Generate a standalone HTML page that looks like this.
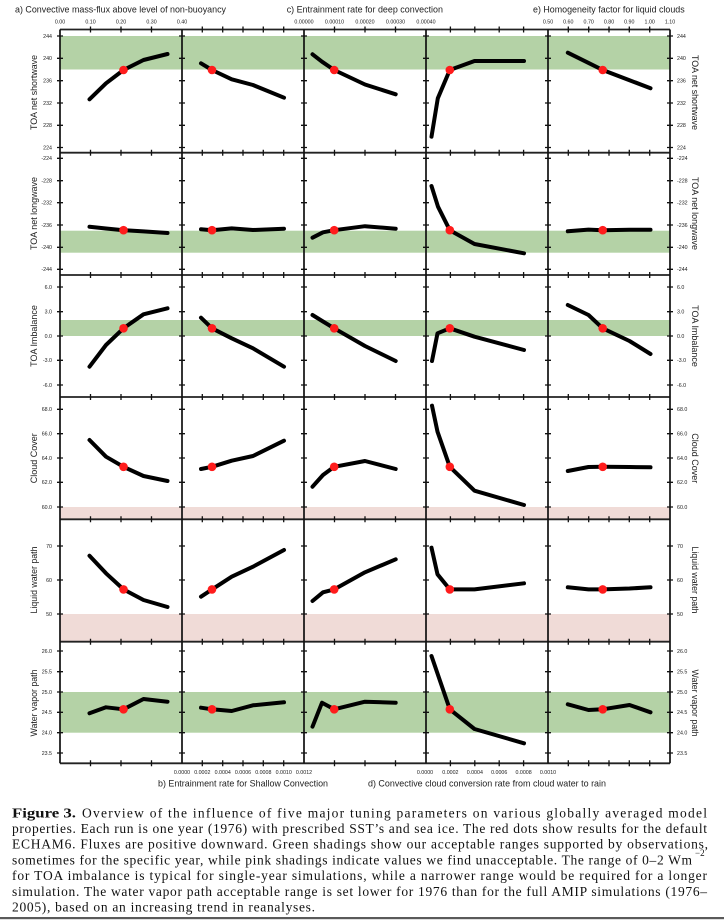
<!DOCTYPE html>
<html><head><meta charset="utf-8">
<style>
html,body{margin:0;padding:0;background:#fff;}
svg{display:block;}
.t{font-family:"Liberation Sans",Arial,sans-serif;fill:#1e1e1e;}
.k{font-family:"Liberation Sans",Arial,sans-serif;font-size:5.3px;fill:#222;}
.c{font-family:"Liberation Serif","Times New Roman",serif;font-size:13.5px;fill:#111;}
</style></head>
<body>
<svg width="724" height="920" viewBox="0 0 724 920" xmlns="http://www.w3.org/2000/svg">
<defs>
<path id="yt" d="M-3 36h6M-3 58.3h6M-3 80.7h6M-3 103h6M-3 125.3h6M-3 147.5h6M-3 158.3h6M-3 180.7h6M-3 202.7h6M-3 225h6M-3 247.3h6M-3 269.3h6M-3 287h6M-3 311.7h6M-3 336h6M-3 360.3h6M-3 385h6M-3 409.3h6M-3 433.7h6M-3 458h6M-3 482.3h6M-3 507h6M-3 546h6M-3 580h6M-3 614h6M-3 651h6M-3 671.7h6M-3 692h6M-3 712.3h6M-3 732.7h6M-3 753h6" stroke="#111" stroke-width="1.3" fill="none"/>
<path id="xt" d="M90.5 -3v6M121 -3v6M151.5 -3v6M202.3 -3v6M222.7 -3v6M243 -3v6M263.3 -3v6M283.7 -3v6M334.5 -3v6M365 -3v6M395.5 -3v6M450.4 -3v6M474.8 -3v6M499.2 -3v6M523.6 -3v6M568.3 -3v6M588.7 -3v6M609 -3v6M629.3 -3v6M649.7 -3v6" stroke="#111" stroke-width="1.3" fill="none"/>
</defs>
<rect x="0" y="0" width="724" height="920" fill="#fff"/>

<!-- bands -->
<rect x="60" y="36" width="610" height="33.5" fill="#b4d2a6"/>
<rect x="60" y="230.7" width="610" height="22" fill="#b4d2a6"/>
<rect x="60" y="320" width="610" height="16" fill="#b4d2a6"/>
<rect x="60" y="507" width="610" height="12.3" fill="#f0dbd7"/>
<rect x="60" y="614" width="610" height="27.7" fill="#f0dbd7"/>
<rect x="60" y="692" width="610" height="40.7" fill="#b4d2a6"/>

<!-- data lines -->
<g fill="none" stroke="#000" stroke-width="4" stroke-linecap="round" stroke-linejoin="round">
<polyline points="89.5,99.3 106,83.3 123.5,70 143.5,60 167.5,54"/>
<polyline points="201,63.3 212,70 231.7,79.3 253,85 284,97.7"/>
<polyline points="312.5,54.3 322,61.7 334.2,70 365,84.5 395.7,94.3"/>
<polyline points="431.5,136.7 437.8,98.3 449.8,70 474.5,61 524,61"/>
<polyline points="567.8,52.7 588.5,62.9 602.7,70 629.5,80.2 650.5,88.3"/>

<polyline points="89.5,226.7 106,228.5 123.5,230.2 143.5,231.4 167.5,233"/>
<polyline points="201,229.3 212,230.2 231.7,228.4 253,230 284,228.7"/>
<polyline points="312.5,237.7 323,232.3 334.2,230.2 365,226.2 395.7,228.7"/>
<polyline points="431.5,186 438,206.7 449.8,230.2 474.5,244 524,253.3"/>
<polyline points="567.8,231.3 588.5,229.6 602.7,230.2 629.5,229.7 650.5,229.8"/>

<polyline points="89.5,366.7 106,345 123.5,328.3 143.5,314.3 167.5,308.3"/>
<polyline points="201,317.7 212,328.3 231.7,338.3 253,348.3 284,366.7"/>
<polyline points="312.5,315 323,321.5 334.2,328.3 365,346 395.7,361"/>
<polyline points="432,361 437.5,333.3 449.8,328.3 474.5,336.7 524,350"/>
<polyline points="567.8,305 588.5,315 602.7,328.3 629.5,341 650.5,354"/>

<polyline points="89.5,440 106,456.7 123.5,466.8 143.5,476 167.5,481"/>
<polyline points="201,469 212,466.8 231.7,460.7 253,456 284,440.7"/>
<polyline points="312.5,486.7 323,475 334.2,466.8 365,461 395.7,469"/>
<polyline points="432,405.7 437.5,431.7 449.8,466.8 474.5,490.7 524,505"/>
<polyline points="567.8,471 588.5,467 602.7,466.8 629.5,467 650.5,467.3"/>

<polyline points="89.5,555.7 106,573.3 123.5,589.4 143.5,600 167.5,607"/>
<polyline points="201,596.7 212,589.4 231.7,576.7 253,566.7 284,550"/>
<polyline points="312.5,601 323,592.3 334.2,589.4 365,572.3 395.7,559.3"/>
<polyline points="431.5,547.7 437.5,574.3 449.8,589.4 474.5,589.4 524,583.3"/>
<polyline points="567.8,587.3 588.5,589.4 602.7,589.4 629.5,588.5 650.5,587.3"/>

<polyline points="89.5,713.3 106,707.3 123.5,709.3 143.5,699 167.5,701.7"/>
<polyline points="201,707.7 212,709.3 231.7,711 253,705.3 284,702.3"/>
<polyline points="312.5,726.7 322,702.7 334.2,709.3 365,701.7 395.7,702.7"/>
<polyline points="431.5,656 437.5,673.5 449.8,709.3 474.5,729 524,743.3"/>
<polyline points="567.8,704.3 588.5,710 602.7,709.3 629.5,705 650.5,712.3"/>
</g>

<!-- red dots -->
<g fill="#ff1c1c">
<circle cx="123.5" cy="70" r="4.3"/><circle cx="212" cy="70" r="4.3"/><circle cx="334.2" cy="70" r="4.3"/><circle cx="449.8" cy="70" r="4.3"/><circle cx="602.7" cy="70" r="4.3"/>
<circle cx="123.5" cy="230.2" r="4.3"/><circle cx="212" cy="230.2" r="4.3"/><circle cx="334.2" cy="230.2" r="4.3"/><circle cx="449.8" cy="230.2" r="4.3"/><circle cx="602.7" cy="230.2" r="4.3"/>
<circle cx="123.5" cy="328.3" r="4.3"/><circle cx="212" cy="328.3" r="4.3"/><circle cx="334.2" cy="328.3" r="4.3"/><circle cx="449.8" cy="328.3" r="4.3"/><circle cx="602.7" cy="328.3" r="4.3"/>
<circle cx="123.5" cy="466.8" r="4.3"/><circle cx="212" cy="466.8" r="4.3"/><circle cx="334.2" cy="466.8" r="4.3"/><circle cx="449.8" cy="466.8" r="4.3"/><circle cx="602.7" cy="466.8" r="4.3"/>
<circle cx="123.5" cy="589.4" r="4.3"/><circle cx="212" cy="589.4" r="4.3"/><circle cx="334.2" cy="589.4" r="4.3"/><circle cx="449.8" cy="589.4" r="4.3"/><circle cx="602.7" cy="589.4" r="4.3"/>
<circle cx="123.5" cy="709.3" r="4.3"/><circle cx="212" cy="709.3" r="4.3"/><circle cx="334.2" cy="709.3" r="4.3"/><circle cx="449.8" cy="709.3" r="4.3"/><circle cx="602.7" cy="709.3" r="4.3"/>
</g>

<!-- frame lines -->
<g stroke="#222" stroke-width="1.8" fill="none">
<path d="M60 29.5H670M60 152.7H670M60 275H670M60 397H670M60 519.3H670M60 641.7H670M60 763.3H670"/>
</g>
<g stroke="#111" stroke-width="1.7" fill="none">
<path d="M60 29.5V763.3M182 29.5V763.3M304 29.5V763.3M426 29.5V763.3M548 29.5V763.3M670 29.5V763.3"/>
</g>

<!-- ticks -->
<use href="#yt" x="60"/><use href="#yt" x="182"/><use href="#yt" x="304"/><use href="#yt" x="426"/><use href="#yt" x="548"/><use href="#yt" x="670"/>
<use href="#xt" y="29.5"/><use href="#xt" y="152.7"/><use href="#xt" y="275"/><use href="#xt" y="397"/><use href="#xt" y="519.3"/><use href="#xt" y="641.7"/><use href="#xt" y="763.3"/>

<!-- top tick labels -->
<g class="k" text-anchor="middle">
<text x="60" y="23.6">0.00</text><text x="90.5" y="23.6">0.10</text><text x="121" y="23.6">0.20</text><text x="151.5" y="23.6">0.30</text><text x="182" y="23.6">0.40</text>
<text x="304" y="23.6">0.00000</text><text x="334.5" y="23.6">0.00010</text><text x="365" y="23.6">0.00020</text><text x="395.5" y="23.6">0.00030</text><text x="426" y="23.6">0.00040</text>
<text x="548" y="23.6">0.50</text><text x="568.3" y="23.6">0.60</text><text x="588.7" y="23.6">0.70</text><text x="609" y="23.6">0.80</text><text x="629.3" y="23.6">0.90</text><text x="649.7" y="23.6">1.00</text><text x="670" y="23.6">1.10</text>
<text x="182" y="774">0.0000</text><text x="202.3" y="774">0.0002</text><text x="222.7" y="774">0.0004</text><text x="243" y="774">0.0006</text><text x="263.3" y="774">0.0008</text><text x="283.7" y="774">0.0010</text><text x="304" y="774">0.0012</text>
<text x="425" y="774">0.0000</text><text x="450.4" y="774">0.0002</text><text x="474.8" y="774">0.0004</text><text x="499.2" y="774">0.0006</text><text x="523.6" y="774">0.0008</text><text x="548" y="774">0.0010</text>
</g>

<!-- left tick labels -->
<g class="k" text-anchor="end">
<text x="52" y="37.8">244</text><text x="52" y="60.1">240</text><text x="52" y="82.5">236</text><text x="52" y="104.8">232</text><text x="52" y="127.1">228</text><text x="52" y="149.3">224</text>
<text x="52" y="160.1">-224</text><text x="52" y="182.5">-228</text><text x="52" y="204.5">-232</text><text x="52" y="226.8">-236</text><text x="52" y="249.1">-240</text><text x="52" y="271.1">-244</text>
<text x="52" y="288.8">6.0</text><text x="52" y="313.5">3.0</text><text x="52" y="337.8">0.0</text><text x="52" y="362.1">-3.0</text><text x="52" y="386.8">-6.0</text>
<text x="52" y="411.1">68.0</text><text x="52" y="435.5">66.0</text><text x="52" y="459.8">64.0</text><text x="52" y="484.1">62.0</text><text x="52" y="508.8">60.0</text>
<text x="52" y="547.8">70</text><text x="52" y="581.8">60</text><text x="52" y="615.8">50</text>
<text x="52" y="652.8">26.0</text><text x="52" y="673.5">25.5</text><text x="52" y="693.8">25.0</text><text x="52" y="714.1">24.5</text><text x="52" y="734.5">24.0</text><text x="52" y="754.8">23.5</text>
</g>
<!-- right tick labels -->
<g class="k" text-anchor="start">
<text x="677" y="37.8">244</text><text x="677" y="60.1">240</text><text x="677" y="82.5">236</text><text x="677" y="104.8">232</text><text x="677" y="127.1">228</text><text x="677" y="149.3">224</text>
<text x="677" y="160.1">-224</text><text x="677" y="182.5">-228</text><text x="677" y="204.5">-232</text><text x="677" y="226.8">-236</text><text x="677" y="249.1">-240</text><text x="677" y="271.1">-244</text>
<text x="677" y="288.8">6.0</text><text x="677" y="313.5">3.0</text><text x="677" y="337.8">0.0</text><text x="677" y="362.1">-3.0</text><text x="677" y="386.8">-6.0</text>
<text x="677" y="411.1">68.0</text><text x="677" y="435.5">66.0</text><text x="677" y="459.8">64.0</text><text x="677" y="484.1">62.0</text><text x="677" y="508.8">60.0</text>
<text x="677" y="547.8">70</text><text x="677" y="581.8">60</text><text x="677" y="615.8">50</text>
<text x="677" y="652.8">26.0</text><text x="677" y="673.5">25.5</text><text x="677" y="693.8">25.0</text><text x="677" y="714.1">24.5</text><text x="677" y="734.5">24.0</text><text x="677" y="754.8">23.5</text>
</g>

<!-- column titles -->
<g class="t" font-size="9.3">
<text x="15" y="12.3" textLength="211" lengthAdjust="spacingAndGlyphs">a) Convective mass-flux above level of non-buoyancy</text>
<text x="286.7" y="12.3" textLength="156.3" lengthAdjust="spacingAndGlyphs">c) Entrainment rate for deep convection</text>
<text x="533" y="12.3" textLength="151.7" lengthAdjust="spacingAndGlyphs">e) Homogeneity factor for liquid clouds</text>
<text x="158" y="786.7" textLength="170" lengthAdjust="spacingAndGlyphs">b) Entrainment rate for Shallow Convection</text>
<text x="368" y="786.7" textLength="238" lengthAdjust="spacingAndGlyphs">d) Convective cloud conversion rate from cloud water to rain</text>
</g>

<!-- y axis titles left -->
<g class="t" font-size="9" text-anchor="middle">
<text transform="translate(37 92.5) rotate(-90)" textLength="75" lengthAdjust="spacingAndGlyphs">TOA net shortwave</text>
<text transform="translate(37 213.5) rotate(-90)" textLength="73" lengthAdjust="spacingAndGlyphs">TOA net longwave</text>
<text transform="translate(37 336) rotate(-90)" textLength="61.7" lengthAdjust="spacingAndGlyphs">TOA Imbalance</text>
<text transform="translate(37 458.3) rotate(-90)" textLength="50" lengthAdjust="spacingAndGlyphs">Cloud Cover</text>
<text transform="translate(37 580) rotate(-90)" textLength="67" lengthAdjust="spacingAndGlyphs">Liquid water path</text>
<text transform="translate(37 703) rotate(-90)" textLength="67" lengthAdjust="spacingAndGlyphs">Water vapor path</text>
</g>
<!-- y axis titles right -->
<g class="t" font-size="9" text-anchor="middle">
<text transform="translate(692 92.5) rotate(90)" textLength="75" lengthAdjust="spacingAndGlyphs">TOA net shortwave</text>
<text transform="translate(692 213.5) rotate(90)" textLength="73" lengthAdjust="spacingAndGlyphs">TOA net longwave</text>
<text transform="translate(692 336) rotate(90)" textLength="61.7" lengthAdjust="spacingAndGlyphs">TOA Imbalance</text>
<text transform="translate(692 458.3) rotate(90)" textLength="50" lengthAdjust="spacingAndGlyphs">Cloud Cover</text>
<text transform="translate(692 580) rotate(90)" textLength="67" lengthAdjust="spacingAndGlyphs">Liquid water path</text>
<text transform="translate(692 703) rotate(90)" textLength="67" lengthAdjust="spacingAndGlyphs">Water vapor path</text>
</g>

<!-- caption -->
<g class="c">
<text x="12" y="817.3" font-weight="bold" textLength="64" lengthAdjust="spacingAndGlyphs">Figure 3.</text>
<text x="82" y="817.3" textLength="625" lengthAdjust="spacing">Overview of the influence of five major tuning parameters on various globally averaged model</text>
<text x="12" y="833" textLength="695" lengthAdjust="spacing">properties. Each run is one year (1976) with prescribed SST’s and sea ice. The red dots show results for the default</text>
<text x="12" y="848.7" textLength="696" lengthAdjust="spacing">ECHAM6. Fluxes are positive downward. Green shadings show our acceptable ranges supported by observations,</text>
<text x="12" y="864.4" textLength="680" lengthAdjust="spacing">sometimes for the specific year, while pink shadings indicate values we find unacceptable. The range of 0–2 Wm</text>
<text x="695" y="856" font-size="9">−2</text>
<text x="12" y="880.1" textLength="695" lengthAdjust="spacing">for TOA imbalance is typical for single-year simulations, while a narrower range would be required for a longer</text>
<text x="12" y="895.8" textLength="695" lengthAdjust="spacing">simulation. The water vapor path acceptable range is set lower for 1976 than for the full AMIP simulations (1976–</text>
<text x="12" y="911.5" textLength="303" lengthAdjust="spacing">2005), based on an increasing trend in reanalyses.</text>
</g>
<rect x="0" y="917" width="724" height="2.2" fill="#5a5a5a"/>
</svg>
</body></html>
